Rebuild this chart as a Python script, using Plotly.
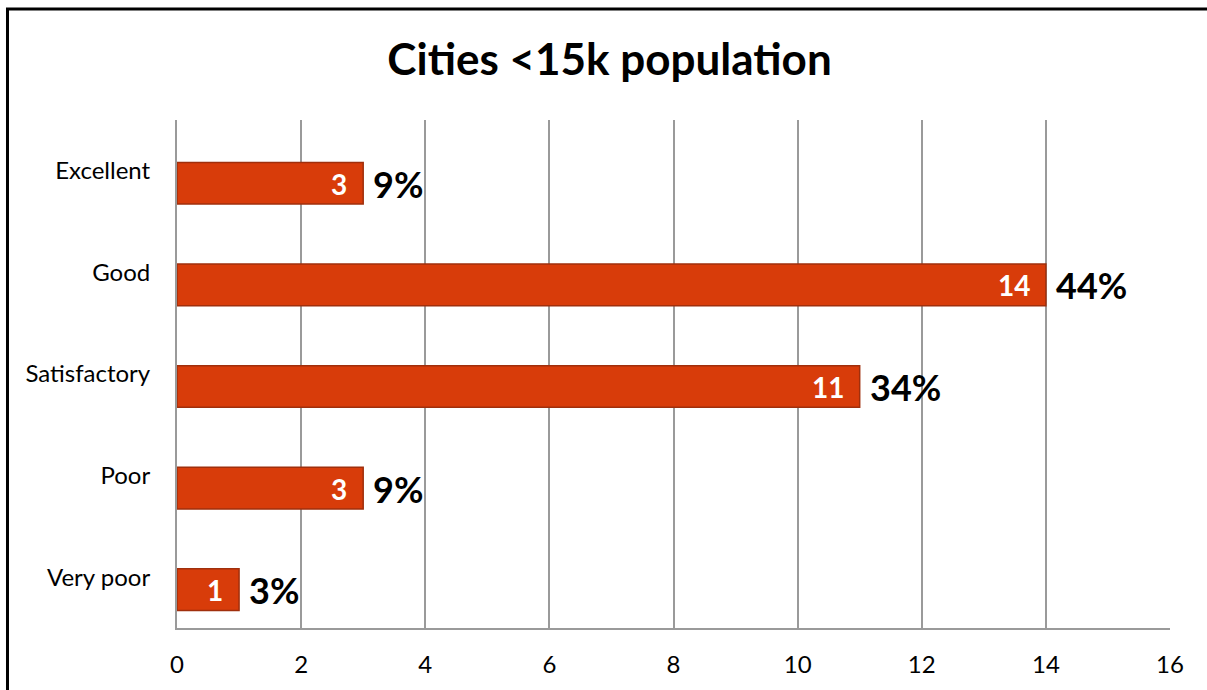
import plotly.graph_objects as go

categories = ["Excellent", "Good", "Satisfactory", "Poor", "Very poor"]
counts = [3, 14, 11, 3, 1]
pct_labels = ["9%", "44%", "34%", "9%", "3%"]
x_ticks = [0, 2, 4, 6, 8, 10, 12, 14, 16]

FONT = "Lato"
BAR_W = 0.41
BAR_SHIFT = 0.123  # bars sit slightly below category centre (3D depth effect)

fig = go.Figure()
fig.add_trace(go.Bar(
    x=counts, y=categories, orientation="h",
    width=BAR_W, offset=-BAR_W / 2 - BAR_SHIFT,
    marker=dict(color="#D83C0A", line=dict(color="#A02F0C", width=1.5)),
    hoverinfo="skip",
))

for c, v, p in zip(categories, counts, pct_labels):
    fig.add_annotation(x=v, y=c, text=f"<b>{v}</b>", showarrow=False,
                       xanchor="right", xshift=-14, yshift=-13,
                       font=dict(family=FONT, size=28, color="white"))
    fig.add_annotation(x=v, y=c, text=f"<b>{p}</b>", showarrow=False,
                       xanchor="left", xshift=8, yshift=-13,
                       font=dict(family=FONT, size=36, color="black"))

# outer black frame
fig.add_shape(type="rect", xref="paper", yref="paper",
              x0=-0.1707, x1=1.2, y0=-0.3, y1=1.2185,
              line=dict(color="black", width=3), layer="below")

fig.update_layout(
    width=1207, height=690,
    margin=dict(l=177, r=37, t=120, b=62),
    paper_bgcolor="white", plot_bgcolor="white",
    showlegend=False,
    title=dict(text="<b>Cities &lt;15k population</b>", x=0.505, xanchor="center",
               y=0.913, yanchor="middle",
               font=dict(family=FONT, size=44, color="black")),
    font=dict(family=FONT, color="black"),
)
fig.update_xaxes(range=[0, 16], tickvals=x_ticks, showgrid=True,
                 gridcolor="#9A9A9A", gridwidth=1.5,
                 showline=True, linecolor="#9A9A9A", linewidth=2,
                 zeroline=False, ticks="", ticklabelstandoff=14, automargin=False,
                 tickfont=dict(family=FONT, size=24, color="black"), fixedrange=True)
fig.update_yaxes(categoryorder="array", categoryarray=categories[::-1],
                 range=[-0.5, 4.5],
                 showgrid=False, showline=True, linecolor="#9A9A9A", linewidth=2,
                 ticks="", ticklabelstandoff=20, automargin=False,
                 tickfont=dict(family=FONT, size=24, color="black"), fixedrange=True)

fig.write_html("out.html")
